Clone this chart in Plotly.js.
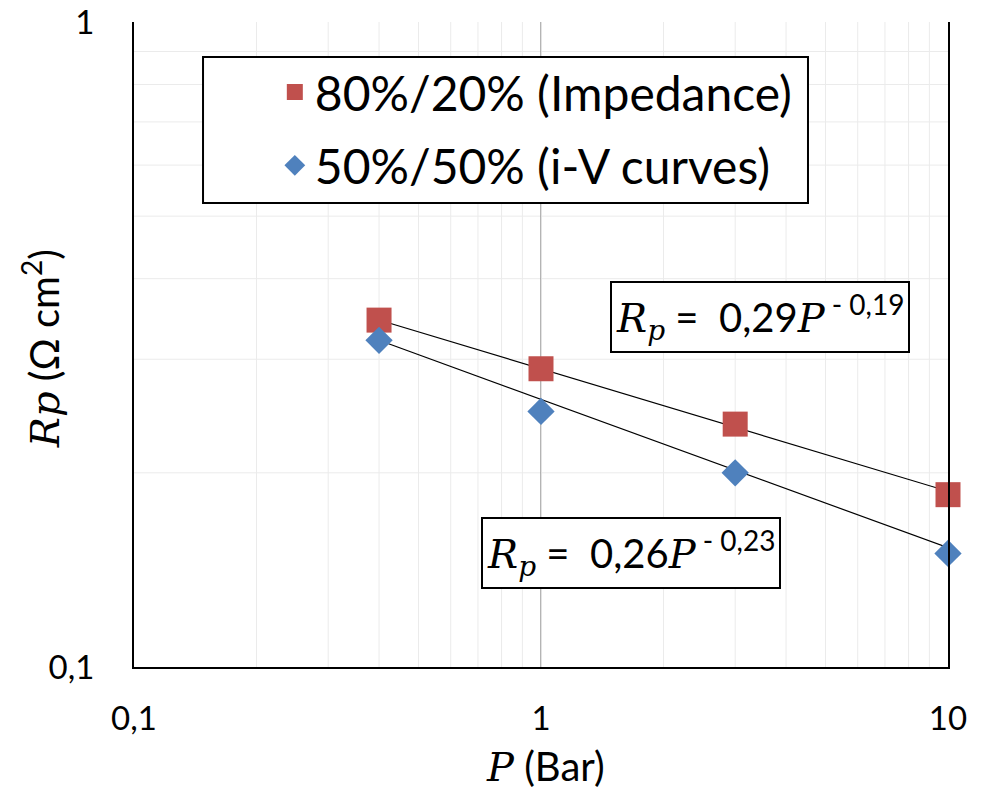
<!DOCTYPE html>
<html>
<head>
<meta charset="utf-8">
<script src="https://cdn.plot.ly/plotly-3.0.1.min.js"></script>
<style>
  html, body { margin: 0; padding: 0; background: #fff; }
  #chart { width: 984px; height: 793px; }
</style>
</head>
<body>
<div id="chart"></div>
<script>
// Polarisation resistance vs. oxygen partial pressure
const pressure = [0.4, 1, 3, 10];                  // P (Bar)
const rpImpedance = [0.345, 0.290, 0.238, 0.185];  // 80%/20% (Impedance)
const rpIV = [0.321, 0.249, 0.200, 0.150];         // 50%/50% (i-V curves)

// Power-law fits Rp = a * P^b
const fitCoef = [0.29, 0.26];
const fitExp = [-0.19, -0.23];
const fitRange = [0.4, 10];

const seriesNames = ['80%/20% (Impedance)', '50%/50% (i-V curves)'];

const xTickVals = [0.1, 1, 10];
const xTickText = ['0,1', '1', '10'];
const yTickVals = [0.1, 1];
const yTickText = ['0,1', '1'];

const SANS = 'Lato, "Open Sans", sans-serif';
const SERIF_CSS = "'DejaVu Serif', 'Liberation Serif', serif";
const ital = s => '<span style="font-family:' + SERIF_CSS + '"><i>' + s + '</i></span>';

// minor gridline positions inside each decade
function minorGrid(lo, hi) {
  const v = [];
  for (let d = lo; d < hi; d *= 10) {
    for (let k = 2; k <= 9; k++) v.push(+(k * d).toPrecision(3));
  }
  return v;
}

function fitLine(i) {
  return {
    x: fitRange,
    y: fitRange.map(p => fitCoef[i] * Math.pow(p, fitExp[i])),
    mode: 'lines',
    line: { color: '#000', width: 1.2 },
    showlegend: false,
    hoverinfo: 'skip',
    cliponaxis: false
  };
}

const traces = [
  fitLine(0),
  fitLine(1),
  {
    x: pressure, y: rpImpedance, name: seriesNames[0],
    mode: 'markers', legendgroup: 'a', cliponaxis: false,
    marker: { symbol: 'square', size: 25, color: '#C0504D' }
  },
  {
    x: pressure, y: rpIV, name: seriesNames[1],
    mode: 'markers', legendgroup: 'b', cliponaxis: false,
    marker: { symbol: 'diamond', size: 21, color: '#4F81BD' }
  }
];

function fmt(v) { return String(Math.abs(v)).replace('.', ','); }
function eqText(i) {
  return ital('R') + '<sub>' + ital('p') + '</sub> =  ' +
    fmt(fitCoef[i]) + ital('P') + '<sup> - ' + fmt(fitExp[i]) + '</sup>';
}

const xMinor = minorGrid(0.1, 10);
const yMinor = minorGrid(0.1, 1);

const shapes = [];
// light minor grid
xMinor.forEach(v => shapes.push({
  type: 'line', xref: 'x', yref: 'paper', x0: v, x1: v, y0: 0, y1: 1,
  line: { color: '#ebebeb', width: 1 }, layer: 'below'
}));
yMinor.forEach(v => shapes.push({
  type: 'line', xref: 'paper', yref: 'y', x0: 0, x1: 1, y0: v, y1: v,
  line: { color: '#ebebeb', width: 1 }, layer: 'below'
}));
// vertical axis crossing at P = 1
shapes.push({
  type: 'line', xref: 'x', yref: 'paper', x0: 1, x1: 1, y0: 0, y1: 1,
  line: { color: '#8c8c8c', width: 1.3 }, layer: 'below'
});
// legend frame
shapes.push({
  type: 'rect', xref: 'paper', yref: 'paper',
  x0: 0.0848, x1: 0.828, y0: 0.7194, y1: 0.9457,
  line: { color: '#000', width: 2 }, fillcolor: '#fff', layer: 'above'
});

const layout = {
  width: 984, height: 793,
  margin: { l: 134, r: 36, t: 22, b: 126 },
  paper_bgcolor: '#fff', plot_bgcolor: '#fff',
  font: { family: SANS, color: '#000', size: 33 },
  showlegend: true,
  legend: {
    x: 0.173, y: 0.950, xanchor: 'left', yanchor: 'top',
    bgcolor: 'rgba(0,0,0,0)', borderwidth: 0,
    font: { family: SANS, size: 48, color: '#000' },
    tracegroupgap: 8,
    itemwidth: 30
  },
  xaxis: {
    type: 'log', range: [-1, 1],
    tickvals: xTickVals, ticktext: xTickText,
    ticks: '', ticklabelstandoff: 21,
    showgrid: true, gridcolor: '#e3e3e3', gridwidth: 1,
    showline: true, linecolor: '#000', linewidth: 2, mirror: false,
    tickfont: { family: SANS, size: 33 },
    zeroline: false
  },
  yaxis: {
    type: 'log', range: [-1, 0],
    tickvals: yTickVals, ticktext: yTickText,
    ticks: '', ticklabelstandoff: 31,
    showgrid: true, gridcolor: '#e3e3e3', gridwidth: 1,
    showline: true, linecolor: '#000', linewidth: 2, mirror: true,
    tickfont: { family: SANS, size: 33 },
    zeroline: false
  },
  shapes: shapes,
  annotations: [
    {
      xref: 'paper', yref: 'paper', x: 0.769, y: 0.542,
      xanchor: 'center', yanchor: 'middle', showarrow: false,
      text: eqText(0), font: { family: SANS, size: 40, color: '#000' },
      bgcolor: '#fff', bordercolor: '#000', borderwidth: 2, borderpad: 4
    },
    {
      xref: 'paper', yref: 'paper', x: 0.610, y: 0.176,
      xanchor: 'center', yanchor: 'middle', showarrow: false,
      text: eqText(1), font: { family: SANS, size: 40, color: '#000' },
      bgcolor: '#fff', bordercolor: '#000', borderwidth: 2, borderpad: 4
    },
    // axis titles
    {
      xref: 'paper', yref: 'paper', x: 0.506, y: -0.153,
      xanchor: 'center', yanchor: 'middle', showarrow: false,
      text: ital('P') + ' (Bar)', font: { family: SANS, size: 40, color: '#000' }
    },
    {
      xref: 'paper', yref: 'paper', x: -0.114, y: 0.493,
      xanchor: 'center', yanchor: 'middle', showarrow: false, textangle: -90,
      text: ital('Rp') + ' (Ω cm<sup>2</sup>)', font: { family: SANS, size: 40, color: '#000' }
    }
  ]
};

Plotly.newPlot('chart', traces, layout, { staticPlot: true, displayModeBar: false });
</script>
</body>
</html>
